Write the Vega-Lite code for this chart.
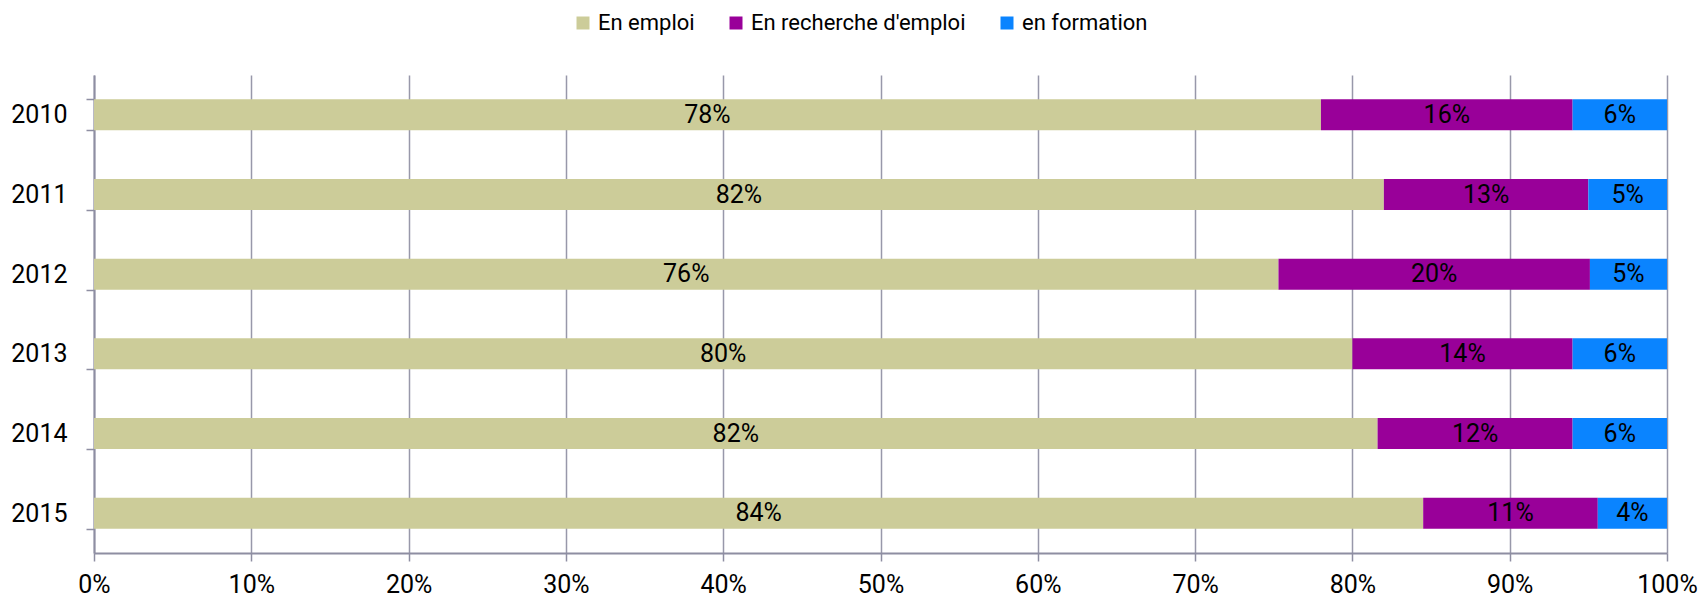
{
  "$schema": "https://vega.github.io/schema/vega-lite/v6.json",
  "autosize": {"type": "none"},
  "padding": {"left": 94, "top": 75, "right": 33, "bottom": 46},
  "width": 1573,
  "height": 478,
  "background": "white",
  "config": {
    "font": "Roboto",
    "view": {"stroke": null}
  },
  "data": {
    "values": [
      {"year": "2010", "status": "En emploi", "order": 1, "value": 78.0, "label": "78%"},
      {"year": "2010", "status": "En recherche d'emploi", "order": 2, "value": 16.0, "label": "16%"},
      {"year": "2010", "status": "en formation", "order": 3, "value": 6.0, "label": "6%"},
      {"year": "2011", "status": "En emploi", "order": 1, "value": 82.0, "label": "82%"},
      {"year": "2011", "status": "En recherche d'emploi", "order": 2, "value": 13.0, "label": "13%"},
      {"year": "2011", "status": "en formation", "order": 3, "value": 5.0, "label": "5%"},
      {"year": "2012", "status": "En emploi", "order": 1, "value": 75.3, "label": "76%"},
      {"year": "2012", "status": "En recherche d'emploi", "order": 2, "value": 19.8, "label": "20%"},
      {"year": "2012", "status": "en formation", "order": 3, "value": 4.9, "label": "5%"},
      {"year": "2013", "status": "En emploi", "order": 1, "value": 80.0, "label": "80%"},
      {"year": "2013", "status": "En recherche d'emploi", "order": 2, "value": 14.0, "label": "14%"},
      {"year": "2013", "status": "en formation", "order": 3, "value": 6.0, "label": "6%"},
      {"year": "2014", "status": "En emploi", "order": 1, "value": 81.6, "label": "82%"},
      {"year": "2014", "status": "En recherche d'emploi", "order": 2, "value": 12.4, "label": "12%"},
      {"year": "2014", "status": "en formation", "order": 3, "value": 6.0, "label": "6%"},
      {"year": "2015", "status": "En emploi", "order": 1, "value": 84.5, "label": "84%"},
      {"year": "2015", "status": "En recherche d'emploi", "order": 2, "value": 11.1, "label": "11%"},
      {"year": "2015", "status": "en formation", "order": 3, "value": 4.4, "label": "4%"}
    ]
  },
  "encoding": {
    "y": {
      "field": "year",
      "type": "nominal",
      "title": null,
      "scale": {"paddingInner": 0.61, "paddingOuter": 0.305},
      "axis": {
        "tickBand": "extent",
        "domainColor": "#8e8ea2",
        "domainWidth": 2,
        "tickColor": "#8e8ea2",
        "tickWidth": 1.5,
        "tickSize": 8,
        "labelFontSize": 25,
        "labelColor": "#000000",
        "labelPadding": 19,
        "grid": false
      }
    }
  },
  "layer": [
    {
      "mark": {"type": "bar"},
      "encoding": {
        "x": {
          "field": "value",
          "type": "quantitative",
          "stack": "zero",
          "title": null,
          "scale": {"domain": [0, 100], "nice": false},
          "axis": {
            "values": [0, 10, 20, 30, 40, 50, 60, 70, 80, 90, 100],
            "labelExpr": "datum.value + '%'",
            "grid": true,
            "gridColor": "#9898aa",
            "gridWidth": 1.5,
            "domainColor": "#8e8ea2",
            "domainWidth": 2,
            "tickColor": "#8e8ea2",
            "tickWidth": 1.5,
            "tickSize": 8,
            "labelFontSize": 25,
            "labelColor": "#000000",
            "labelPadding": 11,
            "labelFlush": false
          }
        },
        "color": {
          "field": "status",
          "type": "nominal",
          "sort": ["En emploi", "En recherche d'emploi", "en formation"],
          "scale": {
            "domain": ["En emploi", "En recherche d'emploi", "en formation"],
            "range": ["#cccc99", "#990099", "#0a84ff"]
          },
          "legend": {
            "title": null,
            "orient": "none",
            "direction": "horizontal",
            "columns": 3,
            "legendX": 478,
            "legendY": -63,
            "symbolType": "square",
            "symbolSize": 169,
            "symbolStrokeWidth": 0,
            "labelFontSize": 22,
            "labelColor": "#000000",
            "labelOffset": 4,
            "labelLimit": 0,
            "columnPadding": 30
          }
        },
        "order": {"field": "order", "type": "quantitative"}
      }
    },
    {
      "mark": {"type": "text", "fontSize": 25, "color": "#000000", "baseline": "middle", "align": "center"},
      "encoding": {
        "x": {"field": "value", "type": "quantitative", "stack": "zero", "bandPosition": 0.5},
        "detail": {"field": "status"},
        "order": {"field": "order", "type": "quantitative"},
        "text": {"field": "label"}
      }
    }
  ]
}
